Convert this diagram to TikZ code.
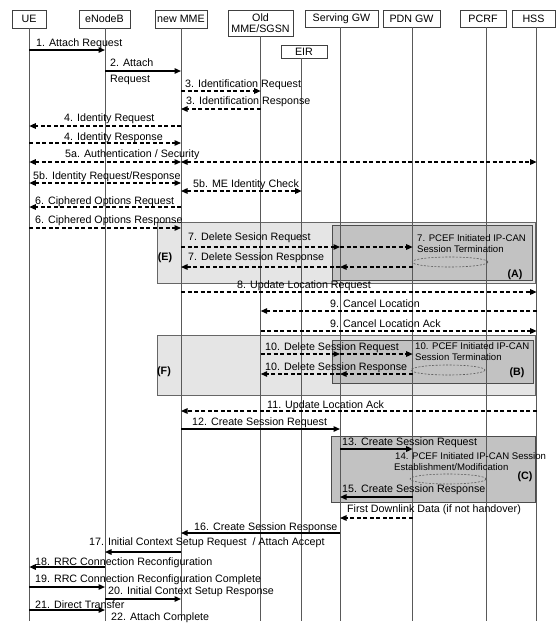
\documentclass[tikz,border=0pt]{standalone}
\usepackage{fontspec}
\setmainfont{Liberation Sans}
\usetikzlibrary{arrows.meta}
\newcommand\mf{\fontsize{10.7}{12}\selectfont}
\newcommand\smallf{\fontsize{9.6}{11}\selectfont}
\newcommand\msg[4]{\draw[#1] (#2 |- 0,#4) -- (#3 |- 0,#4);}
\begin{document}
\begin{tikzpicture}[x=1pt,y=-1pt,
  >={Triangle[length=6.5pt,width=5.5pt]},
  hdr/.style={draw=black!75,line width=0.8pt,fill=white,inner sep=0pt,font=\mf,align=center},
  life/.style={draw=black!65,line width=0.9pt},
  sol/.style={line width=1.4pt,->},
  dsh/.style={line width=1.3pt,dash pattern=on 4pt off 2.5pt,->},
  dshd/.style={line width=1.3pt,dash pattern=on 4pt off 2.5pt,<->},
  lbl/.style={inner sep=0pt,anchor=west,font=\mf,text height=7.6pt,text depth=0pt},
  slbl/.style={inner sep=0pt,anchor=west,font=\smallf,text height=6.9pt,text depth=0pt},
  tag/.style={inner sep=0pt,font=\mf\bfseries},
  outerbox/.style={draw=black!60,line width=0.9pt,fill=black!10},
  innerbox/.style={draw=black!70,line width=0.9pt,fill=black!24},
  cloud/.style={draw=black!65,line width=0.6pt,dash pattern=on 2pt off 1.5pt}
]
\useasboundingbox[fill=white] (0,0) rectangle (558,624);

% group boxes
\draw[outerbox] (157,222) rectangle (535,283);
\draw[innerbox] (332,225) rectangle (532,280);
\draw[outerbox] (157,335) rectangle (535,395);
\draw[innerbox] (332,340) rectangle (533,383);
\draw[innerbox] (331,436) rectangle (535,502);

% headers
\node[hdr,minimum width=34pt,minimum height=18pt] (hue) at (29,19) {UE};
\node[hdr,minimum width=51pt,minimum height=18pt] (henb) at (104.5,19) {eNodeB};
\node[hdr,minimum width=52pt,minimum height=18pt] (hmme) at (181,19) {new MME};
\node[hdr,minimum width=65pt,minimum height=26pt,font=\fontsize{10.7}{10.5}\selectfont] (hold) at (260.5,23) {Old\\MME/SGSN};
\node[hdr,minimum width=73pt,minimum height=17pt] (hsgw) at (341.5,18.5) {Serving GW};
\node[hdr,minimum width=57pt,minimum height=17pt] (hpgw) at (411.5,18.5) {PDN GW};
\node[hdr,minimum width=46pt,minimum height=17pt] (hpcrf) at (483,18.5) {PCRF};
\node[hdr,minimum width=43pt,minimum height=17pt] (hhss) at (533.5,18.5) {HSS};
\node[hdr,minimum width=46pt,minimum height=13pt] (heir) at (304,51.5) {EIR};

% lifeline positions
\coordinate (ue) at (29.3,0);
\coordinate (enb) at (105,0);
\coordinate (mme) at (181,0);
\coordinate (old) at (260.7,0);
\coordinate (eir) at (301.7,0);
\coordinate (sgw) at (340,0);
\coordinate (pgw) at (412.7,0);
\coordinate (pcrf) at (486,0);
\coordinate (hss) at (536.7,0);
\coordinate (bot) at (0,621);

\draw[life] (hue.south -| ue) -- (bot -| ue);
\draw[life] (henb.south -| enb) -- (bot -| enb);
\draw[life] (hmme.south -| mme) -- (bot -| mme);
\draw[life] (hold.south -| old) -- (bot -| old);
\draw[life] (heir.south -| eir) -- (bot -| eir);
\draw[life] (hsgw.south -| sgw) -- (bot -| sgw);
\draw[life] (hpgw.south -| pgw) -- (bot -| pgw);
\draw[life] (hpcrf.south -| pcrf) -- (bot -| pcrf);
\draw[life] (hhss.south -| hss) -- (bot -| hss);

% clouds
\draw[cloud] (450,262) ellipse [x radius=38,y radius=5];
\draw[cloud] (448,370) ellipse [x radius=37,y radius=5];
\draw[cloud] (448,479) ellipse [x radius=38,y radius=5];

% messages
\msg{sol}{ue}{enb}{50}
\msg{sol}{enb}{mme}{71}
\msg{dsh}{mme}{old}{91}
\msg{dsh}{old}{mme}{109}
\msg{dsh}{mme}{ue}{126}
\msg{dsh}{ue}{mme}{143}
\msg{dshd}{ue}{mme}{162}
\msg{dshd}{mme}{hss}{162}
\msg{dshd}{ue}{mme}{183}
\msg{dshd}{mme}{eir}{191}
\msg{dsh}{mme}{ue}{207}
\msg{dsh}{ue}{mme}{228}
\msg{dsh}{mme}{sgw}{247}
\msg{dsh}{sgw}{pgw}{247}
\msg{dsh}{pgw}{sgw}{267}
\msg{dsh}{sgw}{mme}{267}
\msg{dsh}{mme}{hss}{292}
\msg{dsh}{hss}{old}{311}
\msg{dsh}{old}{hss}{331}
\msg{dsh}{old}{sgw}{354}
\msg{dsh}{sgw}{pgw}{354}
\msg{dsh}{pgw}{sgw}{374}
\msg{dsh}{sgw}{old}{374}
\msg{dsh}{hss}{mme}{411}
\msg{sol}{mme}{sgw}{429}
\msg{sol}{sgw}{pgw}{449}
\msg{sol}{pgw}{sgw}{497}
\msg{dsh}{pgw}{sgw}{518}
\msg{sol}{sgw}{mme}{533}
\msg{sol}{mme}{enb}{552}
\msg{sol}{enb}{ue}{567}
\msg{sol}{ue}{enb}{587}
\msg{sol}{enb}{mme}{599}
\msg{sol}{ue}{enb}{610}

% labels
\node[lbl] (l1) at (36,43) {1. Attach Request};
\node[lbl] (l2a) at (110,63) {2. Attach};
\node[lbl] (l2b) at (110,79) {Request};
\node[lbl] (l3a) at (185,84) {3. Identification Request};
\node[lbl] (l3b) at (186,101) {3. Identification Response};
\node[lbl] (l4a) at (64,118) {4. Identity Request};
\node[lbl] (l4b) at (64,137) {4. Identity Response};
\node[lbl] (l5a) at (65,154) {5a. Authentication / Security};
\node[lbl] (l5b) at (33,176) {5b. Identity Request/Response};
\node[lbl] (l5c) at (193,184) {5b. ME Identity Check};
\node[lbl] (l6a) at (35,201) {6. Ciphered Options Request};
\node[lbl] (l6b) at (35,220) {6. Ciphered Options Response};
\node[lbl] (l7a) at (188,237) {7. Delete Sesion Request};
\node[lbl] (l7b) at (188,257) {7. Delete Session Response};
\node[slbl] (l7c) at (417,238) {7. PCEF Initiated IP-CAN};
\node[slbl] (l7d) at (417,249) {Session Termination};
\node[tag] (tE) at (165,258) {(E)};
\node[tag] (tA) at (515,275) {(A)};
\node[lbl] (l8) at (237,285) {8. Update Location Request};
\node[lbl] (l9a) at (330,304) {9. Cancel Location};
\node[lbl] (l9b) at (330,324) {9. Cancel Location Ack};
\node[lbl] (l10a) at (265,347) {10. Delete Session Request};
\node[lbl] (l10b) at (265,367) {10. Delete Session Response};
\node[slbl] (l10c) at (415,346) {10. PCEF Initiated IP-CAN};
\node[slbl] (l10d) at (415,357) {Session Termination};
\node[tag] (tF) at (164,372) {(F)};
\node[tag] (tB) at (517,373) {(B)};
\node[lbl] (l11) at (267,405) {11. Update Location Ack};
\node[lbl] (l12) at (192,422) {12. Create Session Request};
\node[lbl] (l13) at (342,442) {13. Create Session Request};
\node[slbl] (l14a) at (395,456) {14. PCEF Initiated IP-CAN Session};
\node[slbl] (l14b) at (394,467) {Establishment/Modification};
\node[tag] (tC) at (525,477) {(C)};
\node[lbl] (l15) at (342,489) {15. Create Session Response};
\node[lbl] (lfd) at (347,509) {First Downlink Data (if not handover)};
\node[lbl] (l16) at (194,527) {16. Create Session Response};
\node[lbl] (l17) at (89,542) {17. Initial Context Setup Request \ / Attach Accept};
\node[lbl] (l18) at (35,562) {18. RRC Connection Reconfiguration};
\node[lbl] (l19) at (35,579) {19. RRC Connection Reconfiguration Complete};
\node[lbl] (l20) at (108,591) {20. Initial Context Setup Response};
\node[lbl] (l21) at (35,605) {21. Direct Transfer};
\node[lbl] (l22) at (111,617) {22. Attach Complete};
\end{tikzpicture}
\end{document}
